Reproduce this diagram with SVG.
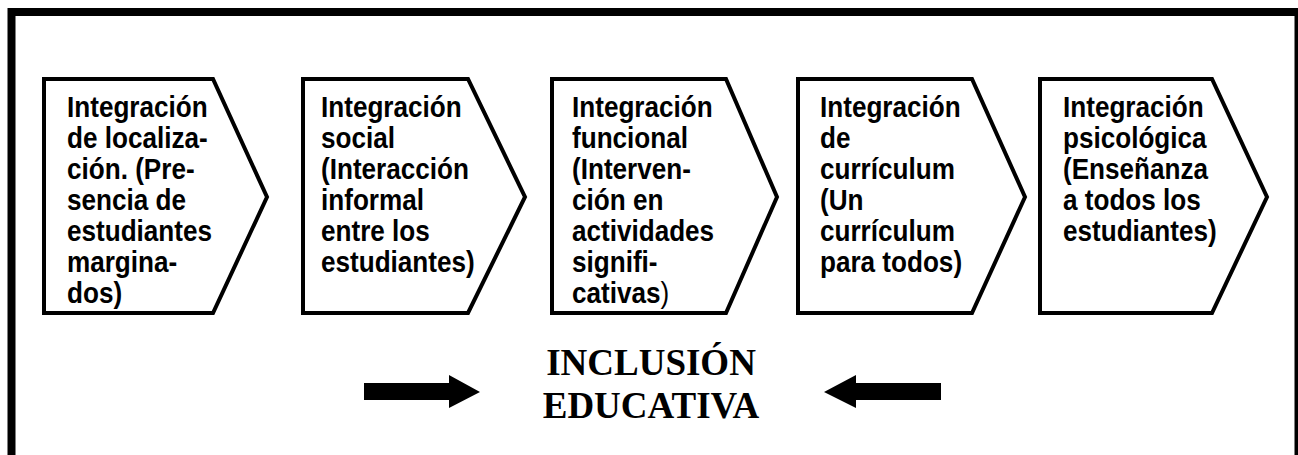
<svg xmlns="http://www.w3.org/2000/svg" width="1298" height="455" viewBox="0 0 1298 455">
<style>
.node{fill:#fff;stroke:#000;stroke-width:4;stroke-linejoin:miter}
.t{font-family:"Liberation Sans",Arial,sans-serif;font-weight:bold;font-size:30px;fill:#000}
.big{font-family:"Liberation Serif","Times New Roman",serif;font-weight:bold;font-size:37px;fill:#000}
</style>
<rect x="0" y="0" width="1298" height="455" fill="#fff"/>
<rect id="frame" x="11.5" y="12" width="1287" height="460" fill="none" stroke="#000" stroke-width="8"/>
<g id="n1">
<polygon class="node" points="44,79 213,79 267,197 213,313 44,313"/>
<text class="t" transform="translate(67,0) scale(0.87,1)" y="117"><tspan x="0">Integración</tspan><tspan x="0" dy="31">de localiza-</tspan><tspan x="0" dy="31">ción. (Pre-</tspan><tspan x="0" dy="31">sencia de</tspan><tspan x="0" dy="31">estudiantes</tspan><tspan x="0" dy="31">margina-</tspan><tspan x="0" dy="31">dos)</tspan></text>
</g>
<g id="n2">
<polygon class="node" points="303,79 468,79 525,197 468,313 303,313"/>
<text class="t" transform="translate(321,0) scale(0.87,1)" y="117"><tspan x="0">Integración</tspan><tspan x="0" dy="31">social</tspan><tspan x="0" dy="31">(Interacción</tspan><tspan x="0" dy="31">informal</tspan><tspan x="0" dy="31">entre los</tspan><tspan x="0" dy="31">estudiantes)</tspan></text>
</g>
<g id="n3">
<polygon class="node" points="552,79 726,79 777,197 726,313 552,313"/>
<text class="t" transform="translate(572,0) scale(0.87,1)" y="117"><tspan x="0">Integración</tspan><tspan x="0" dy="31">funcional</tspan><tspan x="0" dy="31">(Interven-</tspan><tspan x="0" dy="31">ción en</tspan><tspan x="0" dy="31">actividades</tspan><tspan x="0" dy="31">signifi-</tspan><tspan x="0" dy="31">cativas<tspan font-weight="normal">)</tspan></tspan></text>
</g>
<g id="n4">
<polygon class="node" points="798,79 972,79 1025,197 972,313 798,313"/>
<text class="t" transform="translate(820,0) scale(0.87,1)" y="117"><tspan x="0">Integración</tspan><tspan x="0" dy="31">de</tspan><tspan x="0" dy="31">currículum</tspan><tspan x="0" dy="31">(Un</tspan><tspan x="0" dy="31">currículum</tspan><tspan x="0" dy="31">para todos)</tspan></text>
</g>
<g id="n5">
<polygon class="node" points="1040,79 1212,79 1267,197 1212,313 1040,313"/>
<text class="t" transform="translate(1063,0) scale(0.87,1)" y="117"><tspan x="0">Integración</tspan><tspan x="0" dy="31">psicológica</tspan><tspan x="0" dy="31">(Enseñanza</tspan><tspan x="0" dy="31">a todos los</tspan><tspan x="0" dy="31">estudiantes)</tspan></text>
</g>
<g id="center">
<text class="big" x="651" y="375" text-anchor="middle">INCLUSIÓN</text>
<text class="big" x="651" y="418" text-anchor="middle">EDUCATIVA</text>
</g>
<g id="connectors">
<polygon points="364,383 449,383 449,375 480,392 449,408 449,400 364,400" fill="#000"/>
<polygon points="941,383 856,383 856,375 824,392 856,408 856,400 941,400" fill="#000"/>
</g>
</svg>
